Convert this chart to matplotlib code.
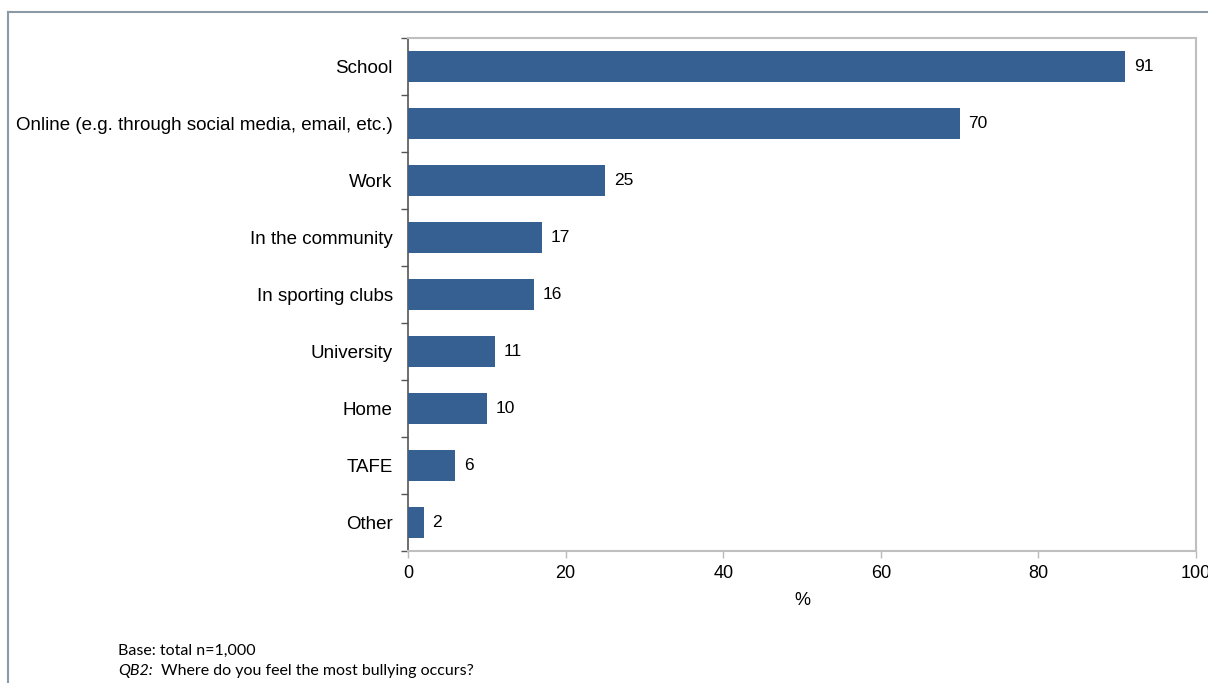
import matplotlib
matplotlib.use("Agg")
import matplotlib.pyplot as plt
from matplotlib.lines import Line2D
from matplotlib.ticker import FixedLocator, NullFormatter

categories = ["School", "Online (e.g. through social media, email, etc.)", "Work",
              "In the community", "In sporting clubs", "University", "Home", "TAFE", "Other"]
values = [91, 70, 25, 17, 16, 11, 10, 6, 2]
xticks = [0, 20, 40, 60, 80, 100]

W, H = 1208, 683
fig = plt.figure(figsize=(W / 100, H / 100), dpi=100)
ax = fig.add_axes([408 / W, 1 - 551 / H, (1196 - 408) / W, (551 - 38) / H])

font = "Liberation Sans"
n = len(categories)
ypos = list(range(n))
ax.barh(ypos, values, height=0.56, color="#366092", zorder=3)
ax.set_ylim(n - 0.5, -0.5)
ax.set_xlim(0, 100)

for y, v in zip(ypos, values):
    ax.text(v + 1.1, y, str(v), va="center", ha="left", fontsize=12.5, family=font, color="black")

ax.set_yticks(ypos)
ax.set_yticklabels(categories, fontsize=13.5, family=font)
ax.yaxis.set_minor_locator(FixedLocator([i - 0.5 for i in range(n + 1)]))
ax.yaxis.set_minor_formatter(NullFormatter())
ax.tick_params(axis="y", which="major", length=0, pad=11)
ax.tick_params(axis="y", which="minor", length=5, width=1, color="#555555", direction="out")

ax.set_xticks(xticks)
ax.set_xticklabels([str(t) for t in xticks], fontsize=13, family=font)
ax.tick_params(axis="x", length=5, width=1, color="#bbbbbb", direction="out", pad=5)
ax.set_xlabel("%", fontsize=13, family=font, labelpad=7)

for s in ["top", "right", "bottom"]:
    ax.spines[s].set_color("#bfbfbf")
    ax.spines[s].set_linewidth(1.5)
ax.spines["left"].set_color("#555555")
ax.spines["left"].set_linewidth(1.2)

# outer frame
fig.add_artist(Line2D([8 / W, 1.0], [1 - 12 / H, 1 - 12 / H], transform=fig.transFigure,
                      color="#8c9aa6", linewidth=1.5))
fig.add_artist(Line2D([8 / W, 8 / W], [1 - 12 / H, 0.0], transform=fig.transFigure,
                      color="#8c9aa6", linewidth=1.5))

fig.text(118 / W, 1 - 651 / H, "Base: total n=1,000", fontsize=11.5, family="Lato",
         va="center", ha="left")
fig.text(118 / W, 1 - 671 / H, "QB2:", fontsize=11.5, family="Lato", style="italic",
         va="center", ha="left")
fig.text(161 / W, 1 - 671 / H, "Where do you feel the most bullying occurs?", fontsize=11.5,
         family="Lato", va="center", ha="left")

fig.savefig("out.png", dpi=100)
